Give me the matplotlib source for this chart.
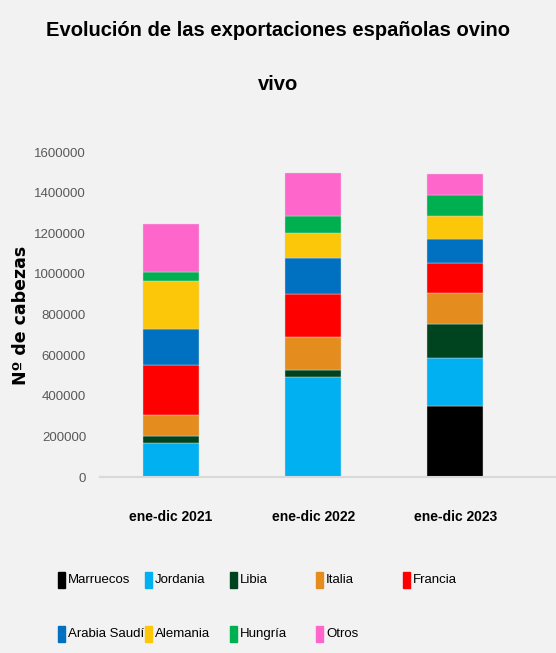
import matplotlib
matplotlib.use("Agg")
import matplotlib.pyplot as plt
from matplotlib.patches import Rectangle
import numpy as np

categories = ["ene-dic 2021", "ene-dic 2022", "ene-dic 2023"]
series = ["Marruecos", "Jordania", "Libia", "Italia", "Francia",
          "Arabia Saudí", "Alemania", "Hungría", "Otros"]
marruecos = [0, 0, 349000]
jordania = [165000, 493000, 239000]
libia = [38000, 36000, 164000]
italia = [101000, 159000, 154000]
francia = [246000, 214000, 150000]
arabia = [181000, 177000, 116000]
alemania = [234000, 123000, 111000]
hungria = [42000, 81000, 105000]
otros = [241000, 216000, 105000]
values = [marruecos, jordania, libia, italia, francia, arabia, alemania, hungria, otros]
colors = ["#000000", "#00b0f0", "#00441f", "#e48d1e", "#ff0000",
          "#0070c0", "#fcc708", "#00b050", "#ff66cc"]
yticks = [0, 200000, 400000, 600000, 800000, 1000000, 1200000, 1400000, 1600000]

bg = "#f2f2f2"
fam = ["Liberation Sans", "DejaVu Sans"]

fig = plt.figure(figsize=(5.56, 6.53), dpi=100, facecolor=bg)
ax = fig.add_axes([100/556, 1 - 477/653, 456/556, (477-150)/653])
ax.set_facecolor(bg)

x = np.arange(len(categories))
bottom = np.zeros(len(categories))
for name, vals, c in zip(series, values, colors):
    v = np.array(vals, dtype=float)
    ax.bar(x, v, width=0.39, bottom=bottom, color=c, label=name,
           edgecolor="#d9d9d9", linewidth=0.3)
    bottom += v

ax.set_xlim(-0.5, 2.71)
ax.set_ylim(0, 1610000)
ax.set_yticks(yticks)
ax.set_yticklabels([str(t) for t in yticks], family=fam, fontsize=9.5, color="#595959")
ax.set_xticks(x)
ax.set_xticklabels(categories, family=fam, fontsize=10, fontweight="bold", color="black")
ax.tick_params(axis="both", length=0)
ax.tick_params(axis="x", pad=24)
ax.tick_params(axis="y", pad=10)
for s in ["top", "right", "left"]:
    ax.spines[s].set_visible(False)
ax.spines["bottom"].set_color("#d9d9d9")
ax.spines["bottom"].set_linewidth(1.5)

fig.text(21/556, 1 - 315/653, "Nº de cabezas", rotation=90, ha="center", va="center",
         fontsize=12.5, fontweight="bold", family="DejaVu Sans")

fig.text(0.5, 1 - 30/653, "Evolución de las exportaciones españolas ovino", ha="center", va="center",
         fontsize=14.5, fontweight="bold", family=fam)
fig.text(0.5, 1 - 85/653, "vivo", ha="center", va="center",
         fontsize=14.5, fontweight="bold", family=fam)

# legend grid
col_x = [58, 145, 230, 316, 403]
row_y = [580, 634]
for i, (name, c) in enumerate(zip(series, colors)):
    r, cc = divmod(i, 5)
    px, py = col_x[cc], row_y[r]
    fig.add_artist(Rectangle((px/556, 1 - (py + 8)/653), 7/556, 16/653,
                             transform=fig.transFigure, color=c))
    fig.text((px + 10)/556, 1 - py/653, name, ha="left", va="center",
             fontsize=9.5, family=fam)

fig.savefig("out.png", dpi=100, facecolor=bg)
